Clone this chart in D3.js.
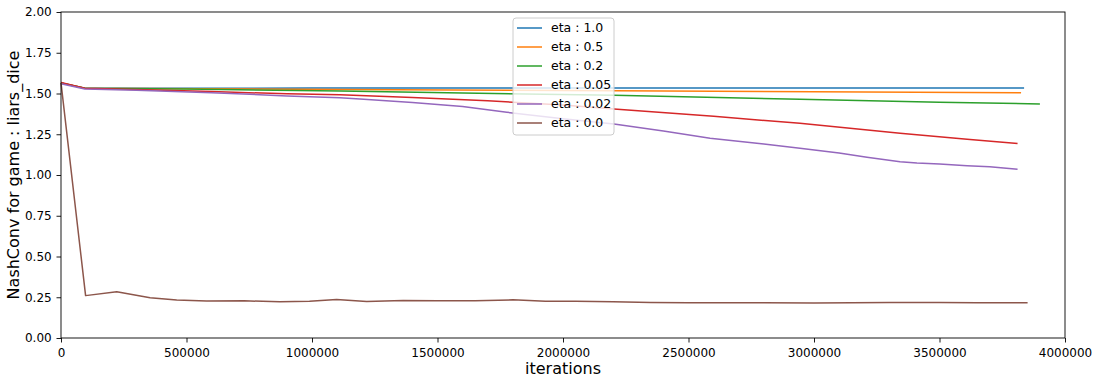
<!DOCTYPE html>
<html lang="en">
<head>
<meta charset="UTF-8">
<title>NashConv liars_dice</title>
<script src="https://cdnjs.cloudflare.com/ajax/libs/d3/7.8.5/d3.min.js"></script>
<style>
  body { margin: 0; background: #fff; }
  svg { font-family: "DejaVu Sans", sans-serif; }
</style>
</head>
<body>
<svg id="chart" width="1099" height="384"></svg>
<script>
// Series: [iterations, NashConv]
const eta10 = [[0,1.565],[95000,1.532],[1000000,1.533],[2000000,1.534],[3000000,1.534],[3837000,1.534]];
const eta05 = [[0,1.565],[95000,1.532],[1111000,1.525],[2203000,1.517],[3000000,1.51],[3825000,1.505]];
const eta02 = [[0,1.565],[95000,1.532],[500000,1.527],[1111000,1.515],[1600000,1.503],[2203000,1.489],[2944000,1.464],[3500000,1.447],[3900000,1.436]];
const eta005 = [[0,1.567],[95000,1.532],[300000,1.525],[600000,1.512],[900000,1.498],[1111000,1.493],[1400000,1.475],[1700000,1.455],[2000000,1.43],[2203000,1.405],[2600000,1.36],[2944000,1.317],[3343000,1.256],[3610000,1.219],[3811000,1.194]];
const eta002 = [[0,1.56],[95000,1.527],[300000,1.52],[600000,1.505],[900000,1.485],[1111000,1.474],[1191000,1.466],[1400000,1.445],[1600000,1.42],[1776000,1.385],[2000000,1.345],[2203000,1.313],[2400000,1.27],[2586000,1.225],[2800000,1.19],[2944000,1.164],[3100000,1.135],[3211000,1.109],[3343000,1.082],[3410000,1.074],[3500000,1.068],[3610000,1.057],[3700000,1.05],[3811000,1.035]];
const eta00 = [[0,1.565],[98000,0.26],[222000,0.284],[355000,0.247],[461000,0.233],[580000,0.227],[730000,0.228],[872000,0.222],[990000,0.225],[1098000,0.236],[1218000,0.224],[1363000,0.23],[1500000,0.228],[1650000,0.229],[1800000,0.234],[1930000,0.225],[2050000,0.226],[2200000,0.222],[2350000,0.218],[2500000,0.216],[2650000,0.217],[2800000,0.216],[3000000,0.215],[3150000,0.216],[3300000,0.218],[3500000,0.218],[3650000,0.217],[3851000,0.216]];

const labels = ["eta : 1.0", "eta : 0.5", "eta : 0.2", "eta : 0.05", "eta : 0.02", "eta : 0.0"];
const seriesList = [eta10, eta05, eta02, eta005, eta002, eta00];
const colors = ["#1f77b4", "#ff7f0e", "#2ca02c", "#d62728", "#9467bd", "#8c564b"];

const xTicks = [0, 500000, 1000000, 1500000, 2000000, 2500000, 3000000, 3500000, 4000000];
const yTicks = [0, 0.25, 0.5, 0.75, 1.0, 1.25, 1.5, 1.75, 2.0];

const margin = { top: 12, right: 34, bottom: 46, left: 61 };
const width = 1099, height = 384;
const svg = d3.select("#chart");

const x = d3.scaleLinear().domain([0, 4000000]).range([margin.left, width - margin.right]);
const y = d3.scaleLinear().domain([0, 2]).range([height - margin.bottom, margin.top]);

// axes
const xAxis = svg.append("g")
    .attr("transform", `translate(0,${height - margin.bottom})`)
    .call(d3.axisBottom(x).tickValues(xTicks).tickFormat(d3.format("d")).tickSizeOuter(0).tickSize(4.5));
const yAxis = svg.append("g")
    .attr("transform", `translate(${margin.left},0)`)
    .call(d3.axisLeft(y).tickValues(yTicks).tickFormat(d3.format(".2f")).tickSizeOuter(0).tickSize(4.5));

[xAxis, yAxis].forEach(a => {
    a.selectAll("text").attr("font-size", 12).attr("fill", "#000").attr("font-family", "DejaVu Sans, sans-serif");
    a.selectAll("line").attr("stroke", "#000").attr("stroke-width", 0.9);
    a.select(".domain").remove();
});
xAxis.selectAll("text").attr("dy", "0.95em");
yAxis.selectAll("text").attr("dx", "-0.15em");

// lines
const line = d3.line().x(d => x(d[0])).y(d => y(d[1]));
svg.append("g").selectAll("path")
    .data(seriesList)
    .join("path")
    .attr("d", line)
    .attr("fill", "none")
    .attr("stroke", (d, i) => colors[i])
    .attr("stroke-width", 1.5)
    .attr("stroke-linejoin", "round");

// frame
svg.append("rect")
    .attr("x", margin.left).attr("y", margin.top)
    .attr("width", width - margin.left - margin.right)
    .attr("height", height - margin.top - margin.bottom)
    .attr("fill", "none").attr("stroke", "#000").attr("stroke-width", 0.9);

// axis labels
svg.append("text")
    .attr("x", (margin.left + width - margin.right) / 2)
    .attr("y", 374)
    .attr("text-anchor", "middle")
    .attr("font-size", 16)
    .text("iterations");
svg.append("text")
    .attr("transform", `translate(19,${(margin.top + height - margin.bottom) / 2}) rotate(-90)`)
    .attr("text-anchor", "middle")
    .attr("font-size", 16)
    .text("NashConv for game : liars_dice");

// legend
const legend = svg.append("g").attr("transform", "translate(513,18)");
legend.append("rect")
    .attr("width", 101).attr("height", 117)
    .attr("rx", 3)
    .attr("fill", "#fff").attr("fill-opacity", 0.8)
    .attr("stroke", "#ccc");
const items = legend.selectAll("g.item")
    .data(labels)
    .join("g")
    .attr("transform", (d, i) => `translate(0,${10 + i * 19})`);
items.append("line")
    .attr("x1", 4).attr("x2", 29)
    .attr("stroke", (d, i) => colors[i])
    .attr("stroke-width", 1.5);
items.append("text")
    .attr("x", 38).attr("dy", "0.35em")
    .attr("font-size", 12.5)
    .text(d => d);
</script>
</body>
</html>
